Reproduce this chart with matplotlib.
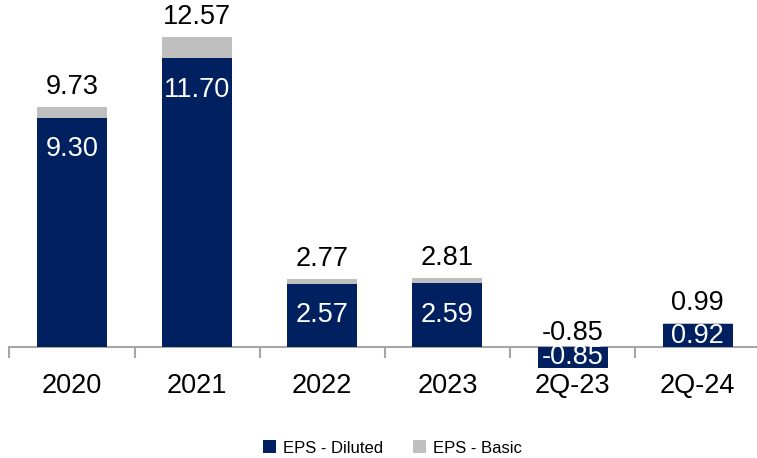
import matplotlib.pyplot as plt
import numpy as np

categories = ["2020", "2021", "2022", "2023", "2Q-23", "2Q-24"]
eps_diluted = [9.30, 11.70, 2.57, 2.59, -0.85, 0.92]
eps_basic = [9.73, 12.57, 2.77, 2.81, -0.85, 0.99]

navy = "#002060"
grey = "#BFBFBF"
plt.rcParams["font.family"] = ["Liberation Sans", "DejaVu Sans"]

fig = plt.figure(figsize=(7.57, 4.58), dpi=100)
ax = fig.add_axes([0.0124, 0.1616, 0.992, 0.8079])

x = np.arange(len(categories))
w = 0.56
ax.bar(x, eps_basic, width=w, color=grey, label="EPS - Basic", zorder=2)
ax.bar(x, eps_diluted, width=w, color=navy, label="EPS - Diluted", zorder=3)

fs = 19.5
# value labels: basic above the bar, diluted inside the bar
for xi, d, b in zip(x, eps_diluted, eps_basic):
    if b >= 0:
        ax.annotate(f"{b:.2f}", (xi, b), xytext=(0, 5), textcoords="offset points",
                    ha="center", va="bottom", fontsize=fs, color="black")
    else:
        ax.annotate(f"{b:.2f}", (xi, 0), xytext=(0, 1), textcoords="offset points",
                    ha="center", va="bottom", fontsize=fs, color="black")
    if d > 3:
        yc = d - 1.28
    else:
        yc = d / 2
    ax.text(xi, yc, f"{d:.2f}", ha="center", va="center", fontsize=fs,
            color="white", zorder=4)

ax.set_xlim(-0.5, len(categories) - 0.5)
ax.set_ylim(-1.5, 13.5)
ax.set_yticks([])
for s in ["left", "right", "top"]:
    ax.spines[s].set_visible(False)
ax.spines["bottom"].set_position(("data", 0))
ax.spines["bottom"].set_color("#A6A6A6")
ax.spines["bottom"].set_linewidth(1.5)
ax.set_xticks(x)
ax.set_xticklabels([])
ax.set_xticks(np.arange(-0.5, len(categories)), minor=True)
ax.tick_params(axis="x", which="major", length=0)
ax.tick_params(axis="x", which="minor", length=8, width=1.5, color="#A6A6A6",
               direction="out")
for xi, c in zip(x, categories):
    ax.annotate(c, (xi, 0), xytext=(0, -19), textcoords="offset points",
                ha="center", va="top", fontsize=fs, color="black",
                annotation_clip=False)

h, l = ax.get_legend_handles_labels()
fig.legend(h[::-1], l[::-1], loc="center", bbox_to_anchor=(0.518, 0.022),
           ncol=2, frameon=False, fontsize=12, handlelength=0.8,
           handleheight=0.8, columnspacing=1.8, handletextpad=0.4)

fig.savefig("out.png", dpi=100)
